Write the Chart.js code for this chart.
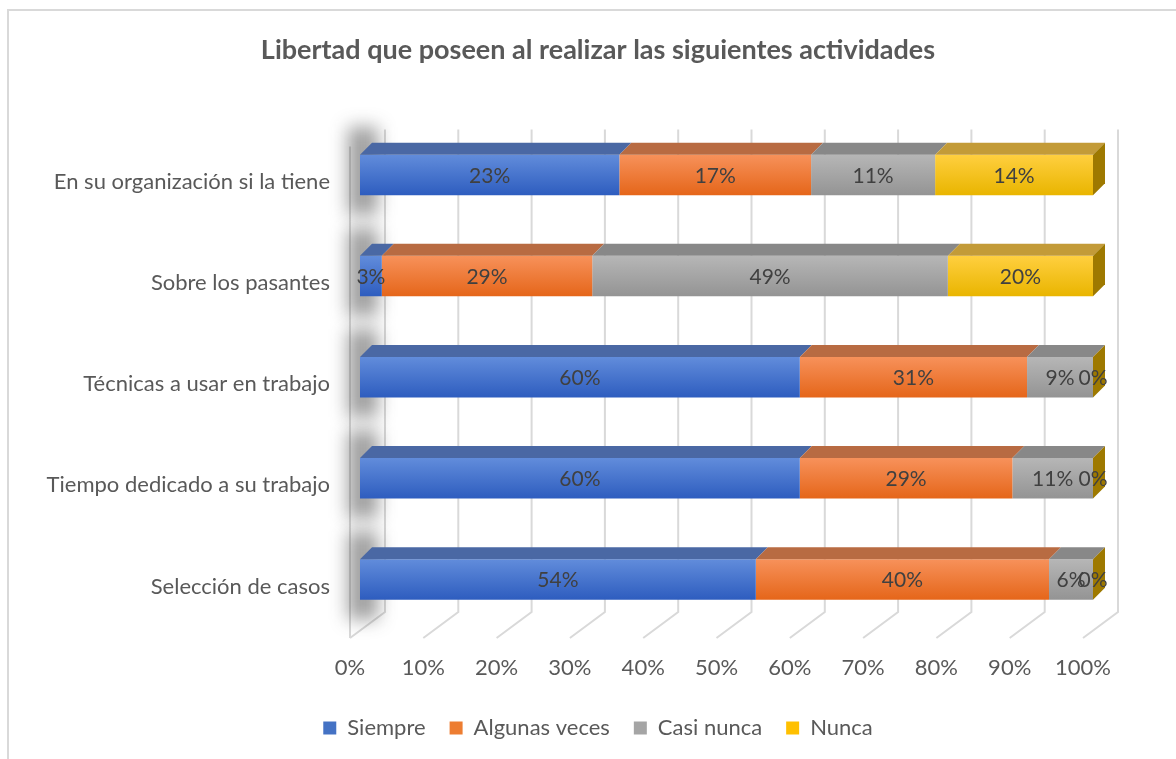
<!DOCTYPE html>
<html lang="es">
<head>
<meta charset="utf-8">
<title>Libertad que poseen al realizar las siguientes actividades</title>
<script src="https://cdn.jsdelivr.net/npm/chart.js@4.4.1/dist/chart.umd.min.js"></script>
<style>
  html, body { margin: 0; padding: 0; background: #fff; overflow: hidden; }
  .wrap { position: relative; width: 1176px; height: 759px; }
  .frame { position: absolute; left: 7px; top: 9px; width: 1200px; height: 800px; border: 2px solid #d9d9d9; box-sizing: border-box; }
  .box { position: absolute; left: 0; top: 0; width: 1176px; height: 759px; }
</style>
</head>
<body>
<div class="wrap">
  <div class="frame"></div>
  <div class="box"><canvas id="chart"></canvas></div>
</div>
<script>
'use strict';

const categories = [
	'En su organización si la tiene',
	'Sobre los pasantes',
	'Técnicas a usar en trabajo',
	'Tiempo dedicado a su trabajo',
	'Selección de casos',
];
const seriesNames = ['Siempre', 'Algunas veces', 'Casi nunca', 'Nunca'];
const siempre = [23, 3, 60, 60, 54];
const algunasVeces = [17, 29, 31, 29, 40];
const casiNunca = [11, 49, 9, 11, 6];
const nunca = [14, 20, 0, 0, 0];
const xTicks = [0, 10, 20, 30, 40, 50, 60, 70, 80, 90, 100];

const seriesValues = [siempre, algunasVeces, casiNunca, nunca];

// every row fills the full width (100 % stacked), labels keep the raw value
const rowTotals = categories.map((_, i) => seriesValues.reduce((sum, arr) => sum + arr[i], 0));
const toShare = (arr) => arr.map((v, i) => (v / rowTotals[i]) * 100);

const palette = [
	{ light: '#618cdb', dark: '#2e5dbf', mid: '#4472c4', top: '#4a68a4' },
	{ light: '#f7915a', dark: '#e5661a', mid: '#ed7d31', top: '#b86b42' },
	{ light: '#b6b6b6', dark: '#949494', mid: '#a5a5a5', top: '#888888' },
	{ light: '#ffcf3f', dark: '#e9b500', mid: '#ffc000', top: '#c39b38', side: '#9e7900' },
];

const depthX = 12;
const depthY = 12;
const textColor = '#595959';
const fontFamily = 'Lato, "Open Sans", sans-serif';

const faceFill = (p) => (c) => {
	const ys = c.chart.scales.y;
	if (!ys || c.type !== 'data') return p.mid;
	const yc = ys.getPixelForValue(c.dataIndex);
	if (!isFinite(yc)) return p.mid;
	const g = c.chart.ctx.createLinearGradient(0, yc - 20, 0, yc + 20);
	g.addColorStop(0, p.light);
	g.addColorStop(1, p.dark);
	return g;
};

// back wall, floor lines and the soft shadows on the side wall
const wallPlugin = {
	id: 'wall',
	beforeDatasetsDraw(chart) {
		const ctx = chart.ctx;
		const { left, top, bottom } = chart.chartArea;
		const xs = chart.scales.x;
		const ys = chart.scales.y;
		ctx.save();
		ctx.strokeStyle = '#d9d9d9';
		ctx.lineWidth = 2;
		ctx.beginPath();
		xTicks.forEach((v) => {
			const px = xs.getPixelForValue(v);
			ctx.moveTo(px + 25, top + 5);
			ctx.lineTo(px + 25, bottom - 18);
			ctx.lineTo(px - 10, bottom + 8);
		});
		ctx.moveTo(left - 10, top + 22);
		ctx.lineTo(left - 10, bottom + 8);
		ctx.stroke();

		ctx.filter = 'blur(9px)';
		ctx.fillStyle = 'rgba(40, 40, 40, 0.45)';
		categories.forEach((_, i) => {
			const yc = ys.getPixelForValue(i);
			ctx.fillRect(left - 12, yc - 48, 30, 88);
		});
		ctx.restore();
	},
	afterDatasetsDraw(chart) {
		const ctx = chart.ctx;
		ctx.save();
		// top faces
		chart.data.datasets.forEach((ds, di) => {
			const meta = chart.getDatasetMeta(di);
			meta.data.forEach((bar) => {
				const x0 = Math.min(bar.x, bar.base);
				const x1 = Math.max(bar.x, bar.base);
				if (x1 - x0 < 0.5) return;
				const yt = bar.y - bar.height / 2;
				ctx.fillStyle = palette[di].top;
				ctx.beginPath();
				ctx.moveTo(x0, yt);
				ctx.lineTo(x0 + depthX, yt - depthY);
				ctx.lineTo(x1 + depthX, yt - depthY);
				ctx.lineTo(x1, yt);
				ctx.closePath();
				ctx.fill();
			});
		});
		// right end of each row
		const last = chart.getDatasetMeta(chart.data.datasets.length - 1);
		last.data.forEach((bar) => {
			const x1 = Math.max(bar.x, bar.base);
			const yt = bar.y - bar.height / 2;
			const yb = bar.y + bar.height / 2;
			ctx.fillStyle = palette[3].side;
			ctx.beginPath();
			ctx.moveTo(x1, yt);
			ctx.lineTo(x1 + depthX, yt - depthY);
			ctx.lineTo(x1 + depthX, yb - depthY);
			ctx.lineTo(x1, yb);
			ctx.closePath();
			ctx.fill();
		});
		// value labels
		ctx.font = '21px ' + fontFamily;
		ctx.fillStyle = '#404040';
		ctx.textAlign = 'center';
		ctx.textBaseline = 'middle';
		chart.data.datasets.forEach((ds, di) => {
			const meta = chart.getDatasetMeta(di);
			meta.data.forEach((bar, i) => {
				ctx.fillText(seriesValues[di][i] + '%', (bar.x + bar.base) / 2, bar.y + 1);
			});
		});
		ctx.restore();
	},
};

const datasets = seriesNames.map((name, i) => ({
	label: name,
	data: toShare(seriesValues[i]),
	backgroundColor: faceFill(palette[i]),
	borderWidth: 0,
	categoryPercentage: 1,
	barPercentage: 0.4,
}));

const chart = new Chart(document.getElementById('chart').getContext('2d'), {
	type: 'bar',
	data: { labels: categories, datasets: datasets },
	plugins: [wallPlugin],
	options: {
		indexAxis: 'y',
		responsive: true,
		maintainAspectRatio: false,
		animation: false,
		layout: { padding: { left: 20, right: 0, top: 0, bottom: 10 } },
		scales: {
			x: {
				stacked: true,
				min: 0,
				max: 100,
				grid: { display: false, drawTicks: false },
				border: { display: false },
				ticks: {
					stepSize: 10,
					padding: 25,
					labelOffset: -10,
					color: textColor,
					font: { family: fontFamily, size: 22 },
					callback: (v) => v + '%',
				},
				afterFit: (scale) => { scale.height = 63; },
			},
			y: {
				stacked: true,
				grid: { display: false, drawTicks: false },
				border: { display: false },
				ticks: {
					padding: 30,
					labelOffset: 7,
					color: textColor,
					font: { family: fontFamily, size: 22 },
				},
				afterFit: (scale) => { scale.width = 340; },
			},
			// empty strip to the right of the bars
			yRight: {
				type: 'category',
				position: 'right',
				grid: { display: false, drawTicks: false },
				border: { display: false },
				ticks: { display: false },
				afterFit: (scale) => { scale.width = 83; },
			},
		},
		plugins: {
			title: {
				display: true,
				text: 'Libertad que poseen al realizar las siguientes actividades',
				color: textColor,
				font: { family: fontFamily, size: 27, weight: 'bold' },
				padding: { top: 34, bottom: 58 },
			},
			legend: {
				position: 'bottom',
				labels: {
					boxWidth: 13,
					boxHeight: 13,
					padding: 24,
					color: textColor,
					font: { family: fontFamily, size: 22 },
					generateLabels: (c) => Chart.defaults.plugins.legend.labels.generateLabels(c).map((item, i) => ({
						...item,
						fillStyle: palette[i].mid,
						strokeStyle: palette[i].mid,
						lineWidth: 0,
					})),
				},
			},
			tooltip: { enabled: false },
		},
	},
});
</script>
</body>
</html>
